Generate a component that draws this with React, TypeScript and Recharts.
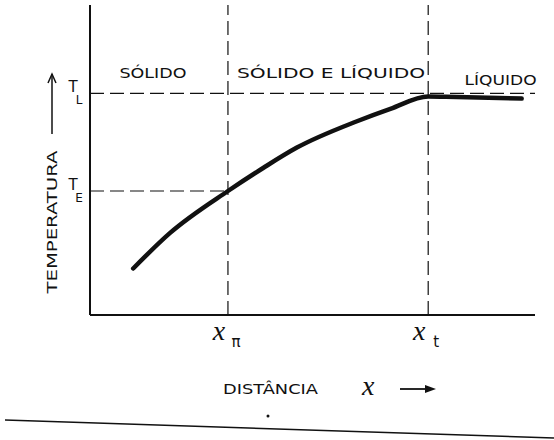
import React from "react";
import {
  LineChart,
  Line,
  XAxis,
  YAxis,
  ReferenceLine,
  ReferenceArea,
  Label,
} from "recharts";

// distance along the ingot (0..100) vs temperature (0..100)
const distance = [9.7, 18, 31, 39, 46.5, 60, 67.5, 76, 80, 97];
const temperature = [15, 26.5, 40, 47.5, 54, 62.5, 66.5, 70.5, 70.4, 69.8];

const X_PI = 31;
const X_T = 76;
const T_E = 40;
const T_L = 71.5;

const regions = ["SÓLIDO", "SÓLIDO E LÍQUIDO", "LÍQUIDO"];
const yTickLabels = { [T_E]: "E", [T_L]: "L" } as Record<number, string>;
const xTickLabels = { [X_PI]: "π", [X_T]: "t" } as Record<number, string>;

const data = distance.map((d, i) => ({ distance: d, temperature: temperature[i] }));

const INK = "#111";
const FONT = "DejaVu Sans, sans-serif";
const XFONT = "Liberation Serif, serif";

const YTick = (props: any) => {
  const { y, payload } = props;
  return (
    <g fill={INK}>
      <text x={73} y={y - 1} fontSize={15} fontFamily={FONT} textAnchor="middle">T</text>
      <text x={79} y={y + 11} fontSize={12} fontFamily={FONT} textAnchor="middle">
        {yTickLabels[payload.value]}
      </text>
    </g>
  );
};

const XTick = (props: any) => {
  const { x, payload } = props;
  return (
    <g fill={INK}>
      <text x={x - 9} y={340} fontSize={28} fontStyle="italic" fontFamily={XFONT} textAnchor="middle">x</text>
      <text x={x + 8} y={347} fontSize={15} fontFamily={FONT} textAnchor="middle">
        {xTickLabels[payload.value]}
      </text>
    </g>
  );
};

const regionLabel = (text: string, width: number, dx: number, y: number) => (props: any) => {
  const { viewBox } = props;
  return (
    <text
      x={viewBox.x + viewBox.width / 2 + dx}
      y={y}
      textAnchor="middle"
      textLength={width}
      lengthAdjust="spacingAndGlyphs"
      fontSize={14}
      fontFamily={FONT}
      fill={INK}
    >
      {text}
    </text>
  );
};

const TempTitle = () => (
  <g>
    <text
      transform="translate(57, 222) rotate(-90)"
      textAnchor="middle"
      textLength={143}
      lengthAdjust="spacingAndGlyphs"
      fontSize={14}
      fontFamily={FONT}
      fill={INK}
    >
      TEMPERATURA
    </text>
    <line x1={52} y1={134} x2={52} y2={74} stroke={INK} strokeWidth={1.5} />
    <polyline points="48,83 52,74 56,83" fill="none" stroke={INK} strokeWidth={1.5} />
  </g>
);

const DistTitle = () => (
  <g fill={INK}>
    <text x={223} y={394} textLength={95} lengthAdjust="spacingAndGlyphs" fontSize={14} fontFamily={FONT}>
      DISTÂNCIA
    </text>
    <text x={362} y={395} fontSize={28} fontStyle="italic" fontFamily={XFONT}>x</text>
    <line x1={400} y1={389} x2={428} y2={389} stroke={INK} strokeWidth={1.8} />
    <polygon points="425,385 436,389 425,393" />
    <line x1={5} y1={420} x2={554} y2={438} stroke={INK} strokeWidth={1.5} />
    <circle cx={268} cy={416} r={1.5} />
  </g>
);

const dash = "14 6";

export default function App() {
  return (
    <div style={{ position: "absolute", left: 0, top: 0, background: "#fff" }}>
      <LineChart
        width={554}
        height={440}
        data={data}
        margin={{ top: 5, right: 19, left: 0, bottom: 0 }}
      >
        <XAxis
          type="number"
          dataKey="distance"
          domain={[0, 100]}
          ticks={[X_PI, X_T]}
          tick={<XTick />}
          tickLine={false}
          axisLine={{ stroke: INK, strokeWidth: 2 }}
          height={125}
          label={<Label content={<DistTitle />} />}
        />
        <YAxis
          type="number"
          domain={[0, 100]}
          ticks={[T_E, T_L]}
          tick={<YTick />}
          tickLine={false}
          axisLine={{ stroke: INK, strokeWidth: 2 }}
          width={90}
          label={<Label content={<TempTitle />} />}
        />
        <ReferenceArea x1={0} x2={X_PI} y1={0} y2={100} fill="none" stroke="none"
          label={<Label content={regionLabel(regions[0], 67, -6, 78)} />} />
        <ReferenceArea x1={X_PI} x2={X_T} y1={0} y2={100} fill="none" stroke="none"
          label={<Label content={regionLabel(regions[1], 188, 3, 78)} />} />
        <ReferenceArea x1={X_T} x2={100} y1={0} y2={100} fill="none" stroke="none"
          label={<Label content={regionLabel(regions[2], 72, 19, 85)} />} />
        <ReferenceLine x={X_PI} stroke={INK} strokeWidth={1.2} strokeDasharray={dash} />
        <ReferenceLine x={X_T} stroke={INK} strokeWidth={1.2} strokeDasharray={dash} />
        <ReferenceLine y={T_L} stroke={INK} strokeWidth={1.2} strokeDasharray={dash} />
        <ReferenceLine
          segment={[{ x: 0, y: T_E }, { x: X_PI, y: T_E }]}
          stroke={INK}
          strokeWidth={1.2}
          strokeDasharray={dash}
        />
        <Line
          type="monotone"
          dataKey="temperature"
          stroke={INK}
          strokeWidth={4.5}
          strokeLinecap="round"
          dot={false}
          isAnimationActive={false}
        />
      </LineChart>
    </div>
  );
}
